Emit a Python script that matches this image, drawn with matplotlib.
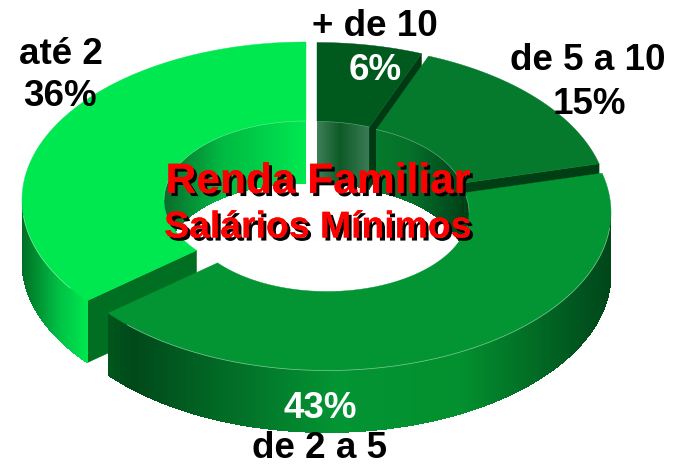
import matplotlib
matplotlib.use('Agg')
import matplotlib.pyplot as plt
import matplotlib.patheffects as pe
from matplotlib.collections import PolyCollection
from matplotlib.colors import to_rgb
import numpy as np

plt.rcParams['font.family'] = ['Liberation Sans', 'DejaVu Sans']

# clockwise from 12 o'clock
categories = ['+ de 10', 'de 5 a 10', 'de 2 a 5', 'até 2']
shares = [6, 15, 43, 36]
pct_labels = ['6%', '15%', '43%', '36%']
title = 'Renda Familiar'
subtitle = 'Salários Mínimos'

RX, RY = 284.0, 158.0
RIX, RIY = 142.0, 79.0
DEPTH = 62.0

centers = {'+ de 10': (317, 200.5), 'de 5 a 10': (324, 203),
           'de 2 a 5': (327, 212.5), 'até 2': (306, 200)}
top_colors = {'+ de 10': '#005a1e', 'de 5 a 10': '#057a2c',
              'de 2 a 5': '#039433', 'até 2': '#00e850'}
inner_grad = {'+ de 10': ([0, 0.45, 1], ['#3f7f5a', '#0d5a26', '#3a7a55']),
              'de 5 a 10': ([0, 0.4, 1], ['#057a2c', '#05702a', '#00451a']),
              'de 2 a 5': ([0, 1], ['#00451a', '#003c14']),
              'até 2': ([0, 0.4, 1], ['#0a6b2c', '#00b842', '#00e850'])}
outer_grad = {'de 2 a 5': ([0, 0.05, 0.45, 0.7, 1],
                           ['#00561c', '#00491a', '#039433', '#03902f', '#00451a']),
              'até 2': ([0, 0.55, 1], ['#006f25', '#00c044', '#00e850'])}
# cut faces seen from the front: which end of the slice, and its colour
cut_faces = {'+ de 10': (1, '#003a12'), 'de 5 a 10': (1, '#003f14'), 'até 2': (0, '#006f22')}


def ring_xy(cx, cy, rx, ry, theta):
    return cx + rx * np.sin(theta), cy - ry * np.cos(theta)


def wall(ax, cx, cy, rx, ry, t0, t1, grad):
    # gradient wall as strips, each one overlapping the next to hide seams
    t = np.linspace(t0, t1, 160)
    x, y = ring_xy(cx, cy, rx, ry, t)
    u = (x - x.min()) / (x.max() - x.min())
    stops = np.array([to_rgb(c) for c in grad[1]])
    polys, cols = [], []
    for i in range(len(t) - 1):
        j = min(i + 3, len(t) - 1)
        polys.append([(x[i], y[i]), (x[j], y[j]), (x[j], y[j] + DEPTH), (x[i], y[i] + DEPTH)])
        um = (u[i] + u[i + 1]) / 2
        cols.append([np.interp(um, grad[0], stops[:, k]) for k in range(3)])
    ax.add_collection(PolyCollection(polys, facecolors=cols, edgecolors='none', antialiaseds=False))


fig = plt.figure(figsize=(6.75, 4.66), dpi=100)
ax = fig.add_axes([0, 0, 1, 1])
ax.set_xlim(0, 675)
ax.set_ylim(466, 0)
ax.axis('off')

edges = np.radians(np.concatenate([[0], np.cumsum(shares)]) * 3.6)
spans = {c: (edges[i], edges[i + 1]) for i, c in enumerate(categories)}

for cat in ['até 2', '+ de 10', 'de 5 a 10', 'de 2 a 5']:
    t0, t1 = spans[cat]
    cx, cy = centers[cat]

    # inner wall: only the back half of the hole faces us
    a = t0 if t0 < np.pi / 2 else 1.5 * np.pi
    b = min(t1, np.pi / 2) if t0 < np.pi / 2 else 2 * np.pi
    wall(ax, cx, cy, RIX, RIY, a, b, inner_grad[cat])

    if cat in cut_faces:
        end, col = cut_faces[cat]
        te = t1 if end else t0
        xo, yo = ring_xy(cx, cy, RX, RY, te)
        xi, yi = ring_xy(cx, cy, RIX, RIY, te)
        ax.fill([xo, xi, xi, xo], [yo, yi, yi + DEPTH, yo + DEPTH], color=col, lw=0.3)

    # outer wall, front half only
    if cat in outer_grad:
        a = max(t0, np.pi / 2)
        b = min(t1, 1.5 * np.pi)
        wall(ax, cx, cy, RX, RY, a, b, outer_grad[cat])

    # top face
    t = np.linspace(t0, t1, 200)
    xo, yo = ring_xy(cx, cy, RX, RY, t)
    xi, yi = ring_xy(cx, cy, RIX, RIY, t[::-1])
    ax.fill(np.r_[xo, xi], np.r_[yo, yi], color=top_colors[cat], lw=0.3)

    # thin light rim where the top meets the shaded walls
    if cat in outer_grad:
        tr = np.linspace(max(t0, np.pi / 2) + 0.1, min(t1, 1.5 * np.pi) - 0.1, 100)
        xr, yr = ring_xy(cx, cy, RX, RY, tr)
        ax.plot(xr, yr, color='#d8f5e0', lw=0.5, alpha=0.6)
    tr = np.linspace(max(t0, 1.5 * np.pi if t0 > np.pi else t0), min(t1, np.pi / 2) if t0 < np.pi / 2 else t1, 100)
    xr, yr = ring_xy(cx, cy, RIX, RIY, tr)
    ax.plot(xr, yr, color='#d8f5e0', lw=0.4, alpha=0.5)

label_font = dict(fontsize=26.5, fontweight='bold', ha='center', va='center')
ax.text(375, 27, categories[0], color='black', **label_font)
ax.text(375, 71, pct_labels[0], color='white', **label_font)
ax.text(588, 60, categories[1], color='black', **label_font)
ax.text(589, 104, pct_labels[1], color='black', **label_font)
ax.text(319, 449, categories[2], color='black', **label_font)
ax.text(320, 408, pct_labels[2], color='white', **label_font)
ax.text(61, 54, categories[3], color='black', **label_font)
ax.text(60, 96, pct_labels[3], color='black', **label_font)

shadow = [pe.withSimplePatchShadow(offset=(2.2, -2.2), shadow_rgbFace='black', alpha=1), pe.Normal()]
ax.text(318, 182, title, color='#ff0000', fontsize=30.6, fontweight='bold', ha='center', va='center', path_effects=shadow)
ax.text(318, 228, subtitle, color='#ff0000', fontsize=26.9, fontweight='bold', ha='center', va='center', path_effects=shadow)

fig.savefig('out.png', dpi=100)
